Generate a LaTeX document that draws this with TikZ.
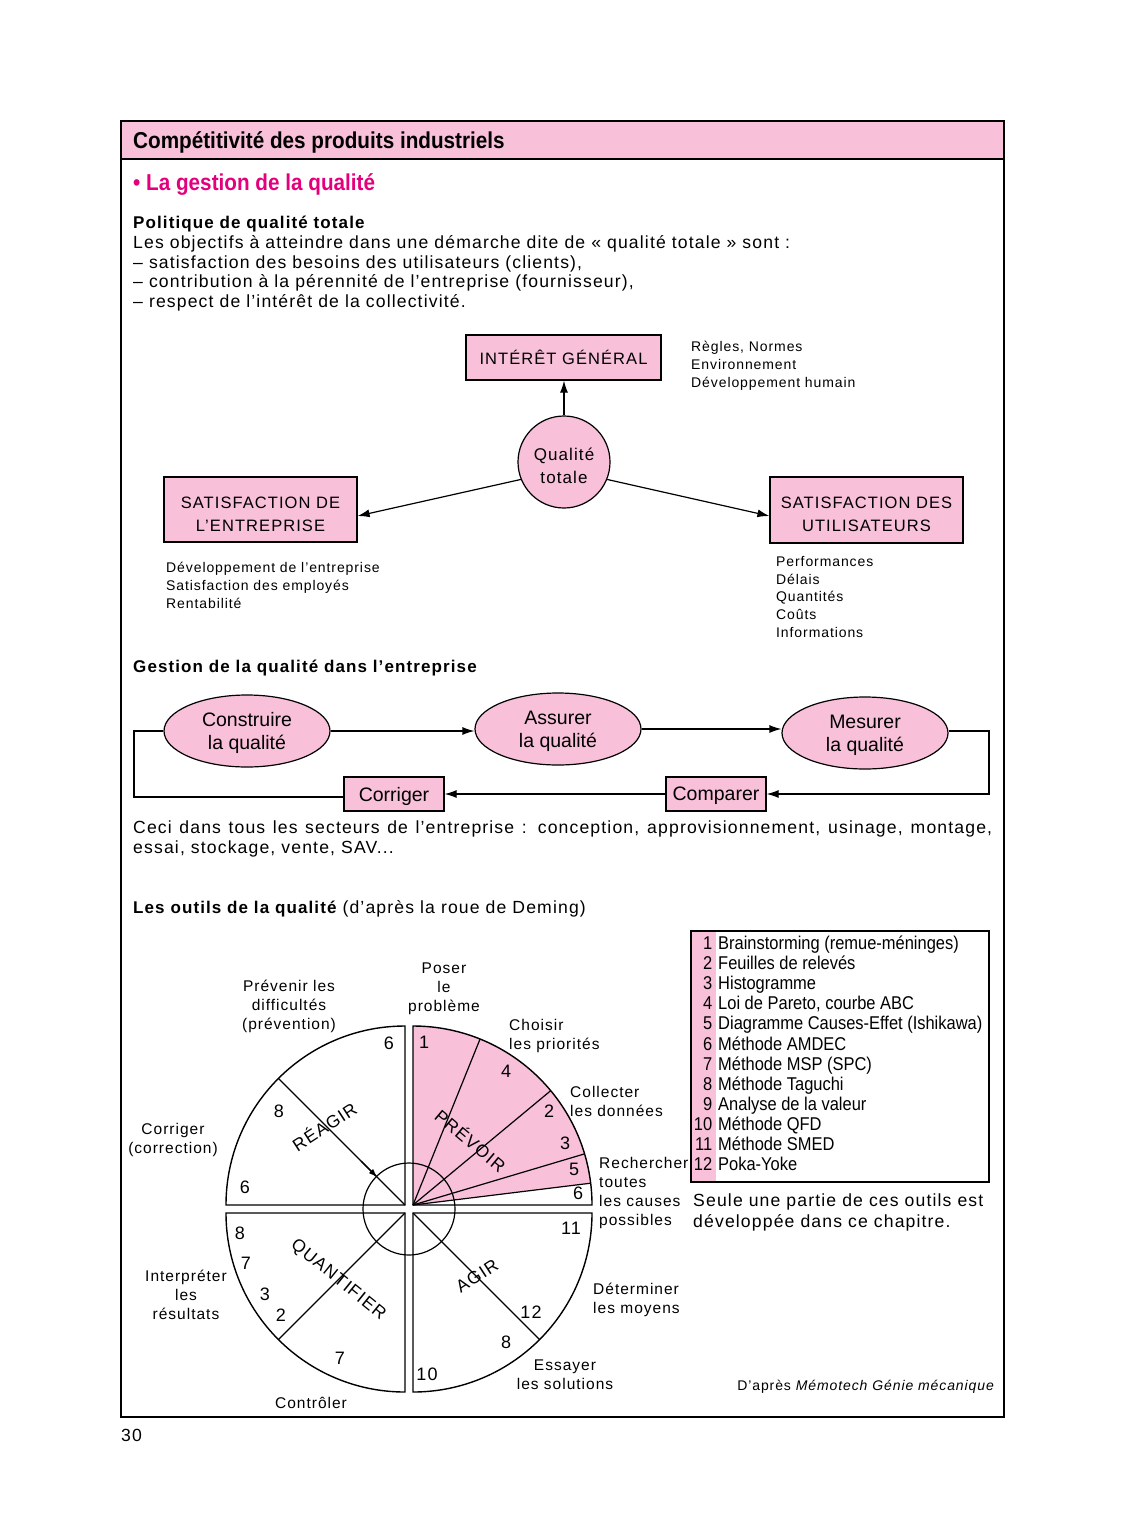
\documentclass[tikz,border=0pt]{standalone}
\usepackage{fontspec}
\setmainfont{Liberation Sans}[LetterSpace=6.5]
\newfontfamily\plainf{Liberation Sans}
\newfontfamily\titlef{Liberation Sans}[FakeStretch=0.9]
\newfontfamily\tabf{Liberation Sans}[FakeStretch=0.89]
\usetikzlibrary{shapes.geometric,arrows.meta,calc}
\definecolor{pinkfill}{RGB}{248,192,217}
\definecolor{magentat}{RGB}{228,0,124}
\newcommand\szbody{\fontsize{17.6}{19.7}\selectfont}
\newcommand\szbold{\fontsize{17}{19.7}\selectfont\bfseries}
\newcommand\szsmall{\fontsize{14}{18}\selectfont}
\newcommand\szbox{\fontsize{16.5}{23}\selectfont}
\newcommand\szproc{\plainf\fontsize{19.5}{23}\selectfont}
\newcommand\szwl{\fontsize{15.5}{19}\selectfont}
\newcommand\sznum{\fontsize{18}{20}\selectfont}
\newcommand\sztab{\tabf\fontsize{18.5}{20}\selectfont}
\newcommand\sztitle{\titlef\bfseries\fontsize{23}{26}\selectfont}
\begin{document}
\begin{tikzpicture}[x=1pt,y=-1pt,
  txt/.style={anchor=base west, inner sep=0pt, font=\szbody},
  sml/.style={anchor=base west, inner sep=0pt, font=\szsmall},
  pbox/.style={draw, line width=1.2pt, fill=pinkfill, inner sep=0pt, font=\szbox, align=center, text depth=0pt},
  pell/.style={ellipse, draw, line width=1.2pt, fill=pinkfill, inner sep=0pt, minimum width=166pt, minimum height=72pt, font=\szproc, align=center, text depth=0pt},
  arr/.style={line width=1.2pt, -{Latex[length=12pt,width=8pt]}},
  wl/.style={inner sep=0pt, font=\szwl},
  wn/.style={inner sep=0pt, font=\sznum},
  wline/.style={line width=1.4pt},
  rot/.style={inner sep=0pt, font=\fontsize{17.5}{20}\selectfont}]
\useasboundingbox (0,0) rectangle (1125,1539);
\fill[white] (0,0) rectangle (1125,1539);
% header
\fill[pinkfill] (121,121) rectangle (1004,159);
\draw[line width=1.4pt] (121,159) -- (1004,159);
\draw[line width=2pt] (121,121) rectangle (1004,1417);
\node[anchor=base west, inner sep=0pt, font=\sztitle] (title) at (133,148.5) {Compétitivité des produits industriels};
\node[anchor=base west, inner sep=0pt, font=\sztitle, text=magentat] (sub) at (133,190.5) {\textbullet\ La gestion de la qualité};
% intro text
\node[txt, font=\szbold] (pol) at (133,228.5) {Politique de qualité totale};
\node[txt] (l1) at (133,248.5) {Les objectifs à atteindre dans une démarche dite de «~qualité totale~» sont~:};
\node[txt] (l2) at (133,268) {– satisfaction des besoins des utilisateurs (clients),};
\node[txt] (l3) at (133,287.5) {– contribution à la pérennité de l’entreprise (fournisseur),};
\node[txt] (l4) at (133,307.5) {– respect de l’intérêt de la collectivité.};
% top diagram
\node[pbox, minimum width=195pt, minimum height=45pt] (ig) at (563.5,357.5) {INTÉRÊT GÉNÉRAL};
\node[circle, draw, line width=1.2pt, fill=pinkfill, minimum size=92pt, inner sep=0pt, font=\fontsize{17}{23}\selectfont, align=center, text depth=0pt] (qt) at (564,462) {\rule{0pt}{19pt}Qualité\\totale};
\node[pbox, minimum width=193pt, minimum height=65pt] (se) at (260.5,509.5) {\rule{0pt}{20pt}SATISFACTION DE\\L’ENTREPRISE};
\node[pbox, minimum width=193pt, minimum height=66pt] (su) at (866.5,510) {\rule{0pt}{20.5pt}SATISFACTION DES\\UTILISATEURS};
\draw[arr] (qt.north) -- (qt.north |- ig.south);
\draw[arr] (qt.202) -- ([yshift=-6.5pt]se.east);
\draw[arr] (qt.-22) -- ([yshift=-6pt]su.west);
\node[sml] (r1) at (691,351) {Règles, Normes};
\node[sml] (r2) at (691,369) {Environnement};
\node[sml] (r3) at (691,387) {Développement humain};
\node[sml] (e1) at (166,572) {Développement de l’entreprise};
\node[sml] (e2) at (166,590) {Satisfaction des employés};
\node[sml] (e3) at (166,608) {Rentabilité};
\node[sml] (u1) at (776,566) {Performances};
\node[sml] (u2) at (776,584) {Délais};
\node[sml] (u3) at (776,601) {Quantités};
\node[sml] (u4) at (776,619) {Coûts};
\node[sml] (u5) at (776,637) {Informations};
% process
\node[txt, font=\szbold] (gest) at (133,672.5) {Gestion de la qualité dans l’entreprise};
\node[pell] (cq) at (247,731) {Construire\\la qualité};
\node[pell] (aq) at (558,729) {Assurer\\la qualité};
\node[pell] (mq) at (865,733) {Mesurer\\la qualité};
\node[pbox, font=\szproc, minimum width=100pt, minimum height=34pt] (cor) at (394,794) {Corriger};
\node[pbox, font=\szproc, minimum width=100pt, minimum height=34pt] (cmp) at (716,794) {Comparer};
\coordinate (rc) at (989,731);
\coordinate (lc) at (134,731);
\draw[arr] (cq.east) -- (cq.east -| aq.west);
\draw[arr] (aq.east) -- (aq.east -| mq.west);
\draw[arr] ([yshift=2pt]mq.east) -- (rc) |- (cmp.east);
\draw[arr] (cmp.west) -- (cor.east);
\draw[line width=1.2pt] ([yshift=-3pt]cor.west) -| (lc) -- (cq.west);
\node[txt] (ceci1) at (133,833.5) {\makebox[859pt][s]{Ceci dans tous les secteurs de l’entreprise~: conception, approvisionnement, usinage, montage,}};
\node[txt] (ceci2) at (133,853.5) {essai, stockage, vente, SAV...};
\node[txt] (outils) at (133,913.5) {{\szbold Les outils de la qualité} (d’après la roue de Deming)};
% wheel
\coordinate (tr) at (413,1205);
\coordinate (tl) at (405,1205);
\coordinate (bl) at (405,1213);
\coordinate (br) at (413,1213);
\coordinate (wc) at (409,1209);
\fill[pinkfill] (tr) -- ++(-7:179) arc[start angle=-7,end angle=-90,radius=179] -- cycle;
\draw[wline] (tr) -- ++(0:179) arc[start angle=0,end angle=-90,radius=179] -- cycle;
\draw[wline] (tl) -- ++(-90:179) arc[start angle=-90,end angle=-180,radius=179] -- cycle;
\draw[wline] (bl) -- ++(180:179) arc[start angle=180,end angle=90,radius=179] -- cycle;
\draw[wline] (br) -- ++(90:179) arc[start angle=90,end angle=0,radius=179] -- cycle;
\foreach \a in {-68,-39.7,-16.6,-7} \draw[line width=1.2pt] (tr) -- ++(\a:179);
\draw[line width=1.2pt] (tl) -- ++(-135:179);
\draw[line width=1.2pt] (bl) -- ++(135:179);
\draw[line width=1.2pt] (br) -- ++(45:179);
\draw[line width=1.2pt] (wc) circle[radius=46];
\draw[line width=1.2pt, -{Latex[length=9pt,width=6pt]}] ($(tl)+(-135:62)$) -- ($(tl)+(-135:39)$);
\node[rot, rotate=33] (reagir) at (324,1126) {RÉAGIR};
\node[rot, rotate=-40] (prevoir) at (471,1140) {PRÉVOIR};
\node[rot, rotate=-39] (quant) at (338,1280) {QUANTIFIER};
\node[rot, rotate=33] (agir) at (477,1276) {AGIR};
\foreach \x/\y/\t [count=\k] in {424/1042/1, 506/1071/4, 549/1111/2, 565/1143/3, 574/1169/5, 578/1193/6,
  389/1043/6, 279/1111/8, 245/1187/6,
  240/1233/8, 246/1263/7, 265/1294/3, 281/1315/2, 340/1358/7,
  571/1228/11, 531/1312/12, 506/1342/8, 427/1374/10}
  \node[wn] (wn\k) at (\x,\y) {\t};
% wheel outer labels
\node[wl, align=center] (poser) at (444,989) {Poser\\le\\problème};
\node[wl, align=center] (prev) at (289,1006) {Prévenir les\\difficultés\\(prévention)};
\node[wl, align=center] (corr) at (173,1139.5) {Corriger\\(correction)};
\node[wl, align=center] (interp) at (186,1294.5) {Interpréter\\les\\résultats};
\node[wl, align=center] (ctrl) at (311,1403) {Contrôler};
\node[wl, align=center] (ess) at (565,1374.5) {Essayer\\les solutions};
\node[wl, align=left, anchor=west] (det) at (593,1299.5) {Déterminer\\les moyens};
\node[wl, align=left, anchor=west] (rech) at (599,1193) {Rechercher\\toutes\\les causes\\possibles};
\node[wl, align=left, anchor=west] (coll) at (570,1101.5) {Collecter\\les données};
\node[wl, align=left, anchor=west] (chois) at (509,1035.5) {Choisir\\les priorités};
% table
\fill[pinkfill] (692,932) rectangle (716,1181);
\draw[line width=1.2pt] (691,931) rectangle (989,1182);
\foreach \t [count=\k] in {Brainstorming (remue-méninges), Feuilles de relevés, Histogramme, {Loi de Pareto, courbe ABC}, Diagramme Causes-Effet (Ishikawa), Méthode AMDEC, Méthode MSP (SPC), Méthode Taguchi, Analyse de la valeur, Méthode QFD, Méthode SMED, Poka-Yoke}{
  \pgfmathsetmacro\yy{949.5+20.1*(\k-1)}
  \node[anchor=base east, inner sep=0pt, font=\sztab] (tn\k) at (712.5,\yy) {\k};
  \node[anchor=base west, inner sep=0pt, font=\sztab] (tt\k) at (718,\yy) {\t};
}
\node[txt] (seule1) at (693,1206) {Seule une partie de ces outils est};
\node[txt] (seule2) at (693,1227) {développée dans ce chapitre.};
\node[anchor=base east, inner sep=0pt, font=\szsmall] (dapres) at (995,1390) {D’après \textit{Mémotech Génie mécanique}};
\node[txt] (page) at (121,1441) {30};
\end{tikzpicture}
\end{document}
